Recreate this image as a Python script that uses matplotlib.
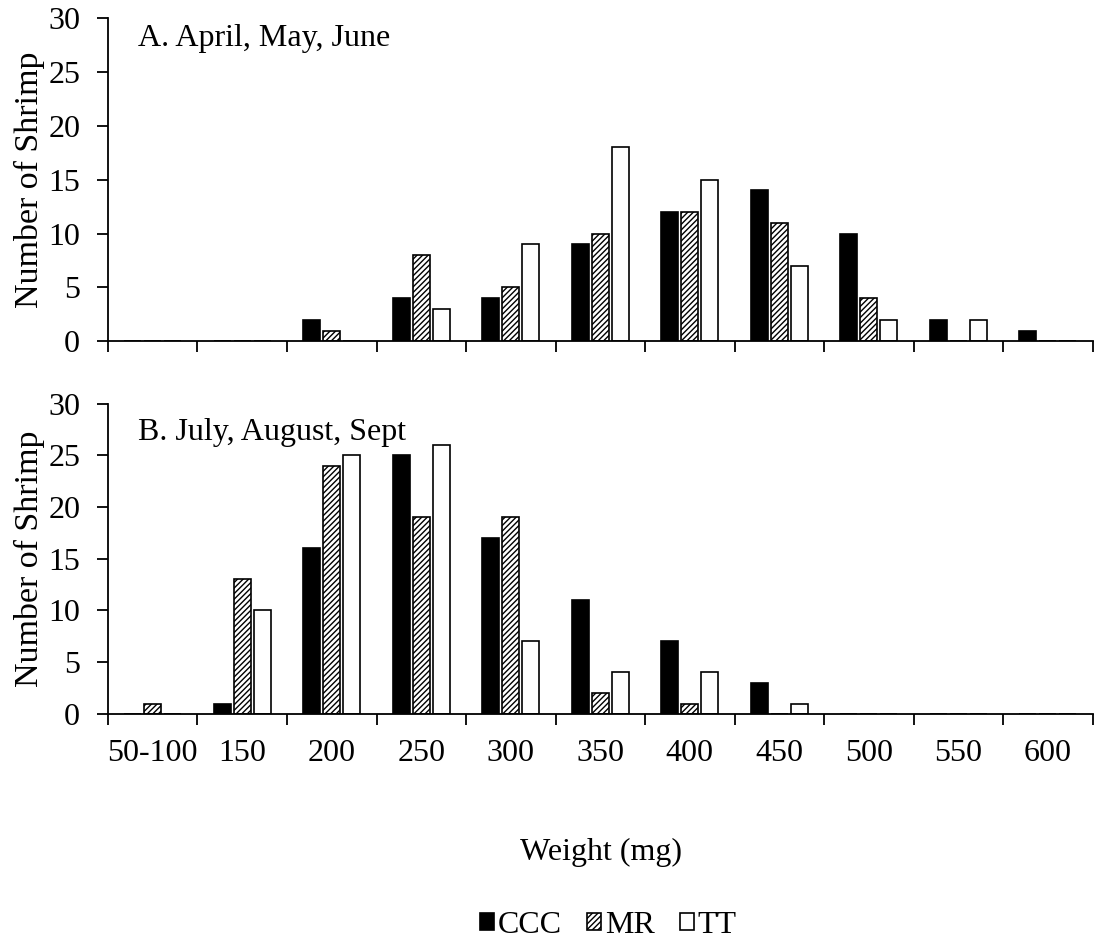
import matplotlib.pyplot as plt
import numpy as np

plt.rcParams['font.family'] = 'Liberation Serif'
plt.rcParams['hatch.linewidth'] = 1.0

# Weight classes (mg)
categories = ['50-100', '150', '200', '250', '300', '350', '400', '450', '500', '550', '600']
series = ['CCC', 'MR', 'TT']

# A. April, May, June
spring_ccc = [0, 0, 2, 4, 4, 9, 12, 14, 10, 2, 1]
spring_mr = [0, 0, 1, 8, 5, 10, 12, 11, 4, 0, 0]
spring_tt = [0, 0, 0, 3, 9, 18, 15, 7, 2, 2, 0]

# B. July, August, Sept
summer_ccc = [0, 1, 16, 25, 17, 11, 7, 3, 0, 0, 0]
summer_mr = [1, 13, 24, 19, 19, 2, 1, 0, 0, 0, 0]
summer_tt = [0, 10, 25, 26, 7, 4, 4, 1, 0, 0, 0]

fig = plt.figure(figsize=(10.94, 9.43), dpi=100)
ax_a = fig.add_axes([0.0987, 0.638, 0.9, 0.343])
ax_b = fig.add_axes([0.0987, 0.243, 0.9, 0.329])

styles = [dict(color='black', edgecolor='black'),
          dict(color='white', edgecolor='black', hatch='//////'),
          dict(color='white', edgecolor='black')]
offsets = [-0.223, 0.0, 0.223]
bar_w = 0.19
fs = 23

x = np.arange(len(categories))


def draw_panel(ax, data, title, title_y, show_labels):
    handles = []
    for vals, off, st, name in zip(data, offsets, styles, series):
        h = ax.bar(x + off, vals, width=bar_w, linewidth=1.2, label=name, **st)
        handles.append(h)
    ax.set_xlim(-0.5, len(categories) - 0.5)
    ax.set_ylim(0, 30)
    ax.set_yticks(range(0, 31, 5))
    ax.spines['top'].set_visible(False)
    ax.spines['right'].set_visible(False)
    ax.spines['left'].set_linewidth(1.3)
    ax.spines['bottom'].set_linewidth(1.3)
    # ticks at class boundaries, labels at centres
    ax.set_xticks(np.arange(-0.5, len(categories), 1.0))
    ax.set_xticklabels([])
    ax.tick_params(axis='x', which='major', direction='out', length=8, width=1.3)
    ax.tick_params(axis='y', direction='out', length=8, width=1.3, labelsize=fs, pad=12)
    if show_labels:
        ax.set_xticks(x, minor=True)
        ax.set_xticklabels(categories, minor=True, fontsize=fs)
        ax.tick_params(axis='x', which='minor', length=0, pad=18)
    ax.set_ylabel('Number of Shrimp', fontsize=24.5, labelpad=2)
    ax.text(0.03, title_y, title, transform=ax.transAxes, fontsize=fs, va='top')
    return handles


draw_panel(ax_a, [spring_ccc, spring_mr, spring_tt], 'A. April, May, June', 0.98, False)
handles = draw_panel(ax_b, [summer_ccc, summer_mr, summer_tt], 'B. July, August, Sept', 0.955, True)

fig.text(0.549, 0.0955, 'Weight (mg)', fontsize=fs, ha='center', va='center')

fig.legend(handles, series, loc='center', bbox_to_anchor=(0.556, 0.019), ncol=3,
           frameon=False, fontsize=fs, handlelength=0.45, handleheight=0.45,
           handletextpad=0.1, columnspacing=0.8, borderpad=0.1)

fig.savefig('out.png', dpi=100)
